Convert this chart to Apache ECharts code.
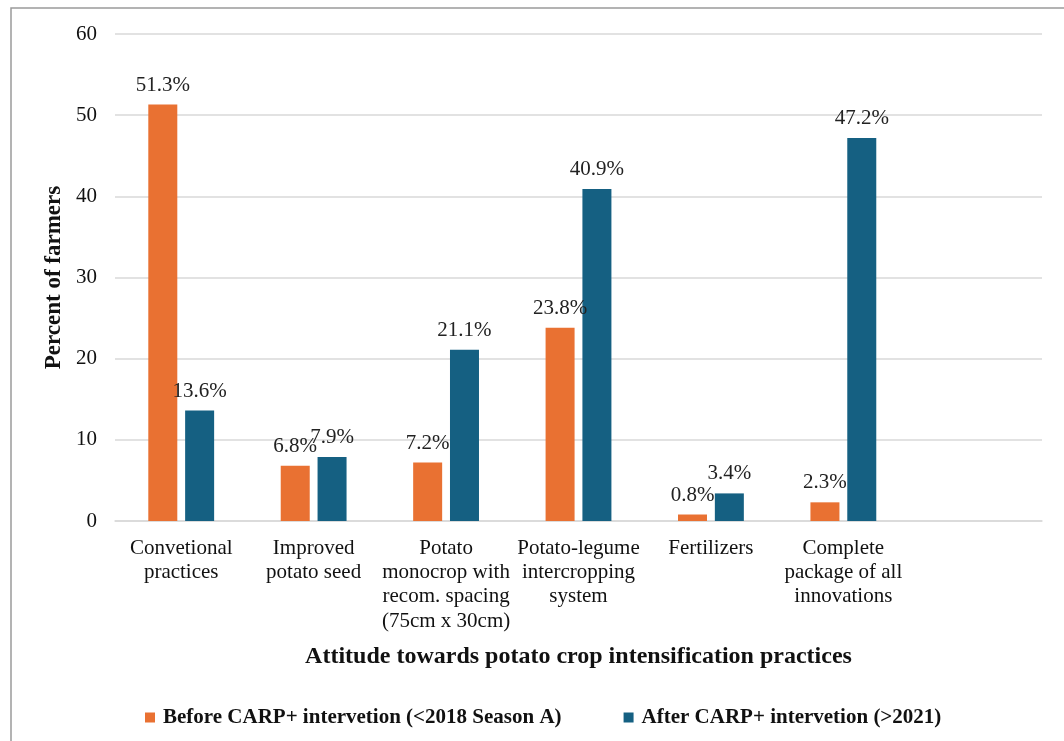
<!DOCTYPE html>
<html>
<head>
<meta charset="utf-8">
<script src="https://cdn.jsdelivr.net/npm/echarts@6/dist/echarts.min.js"></script>
<style>
  html, body { margin: 0; padding: 0; background: #fff; }
  #chart { width: 1064px; height: 741px; }
</style>
</head>
<body>
<div id="chart"></div>
<script>
// Practices surveyed (last slot is an empty category on the axis)
const categories = [
  'Convetional\npractices',
  'Improved\npotato seed',
  'Potato\nmonocrop with\nrecom. spacing\n(75cm x 30cm)',
  'Potato-legume\nintercropping\nsystem',
  'Fertilizers',
  'Complete\npackage of all\ninnovations',
  ''
];
const seriesNames = [
  'Before CARP+ intervetion (<2018 Season A)',
  'After CARP+ intervetion (>2021)'
];
const beforeValues = [51.3, 6.8, 7.2, 23.8, 0.8, 2.3, null];
const afterValues = [13.6, 7.9, 21.1, 40.9, 3.4, 47.2, null];
const yTicks = { min: 0, max: 60, interval: 10 };

const colors = ['#E97132', '#156082'];
const serif = '"Liberation Serif", "Times New Roman", serif';

const chart = echarts.init(document.getElementById('chart'), null, { renderer: 'canvas' });

function barSeries(name, data, color) {
  return {
    name: name,
    type: 'bar',
    data: data,
    barWidth: 29,
    barGap: '27%',
    itemStyle: { color: color },
    label: {
      show: true,
      position: 'top',
      distance: 9,
      formatter: p => p.value == null ? '' : p.value.toFixed(1) + '%',
      fontFamily: serif,
      fontSize: 21,
      color: '#222'
    }
  };
}

chart.setOption({
  animation: false,
  backgroundColor: '#fff',
  color: colors,
  grid: { left: 115, right: 22, top: 34, bottom: 220, containLabel: false },
  legend: {
    data: seriesNames,
    left: 140,
    top: 702,
    icon: 'rect',
    itemWidth: 10,
    itemHeight: 10,
    itemGap: 62,
    textStyle: {
      fontFamily: serif,
      fontWeight: 'bold',
      fontSize: 21,
      color: '#111',
      padding: [0, 0, 0, 3]
    }
  },
  xAxis: {
    type: 'category',
    data: categories,
    axisLine: { show: true, lineStyle: { color: '#d9d9d9', width: 1.5 } },
    axisTick: { show: false },
    axisLabel: {
      interval: 0,
      margin: 15,
      fontFamily: serif,
      fontSize: 21,
      lineHeight: 24.3,
      color: '#111',
      align: 'center',
      verticalAlign: 'top'
    },
    name: 'Attitude towards potato crop intensification practices',
    nameLocation: 'middle',
    nameGap: 124,
    nameTextStyle: { fontFamily: serif, fontSize: 24, fontWeight: 'bold', color: '#111' }
  },
  yAxis: {
    type: 'value',
    min: yTicks.min,
    max: yTicks.max,
    interval: yTicks.interval,
    axisLine: { show: false },
    axisTick: { show: false },
    splitLine: { lineStyle: { color: '#d9d9d9', width: 1.5 } },
    axisLabel: { margin: 18, fontFamily: serif, fontSize: 21, color: '#111' },
    name: 'Percent of farmers',
    nameLocation: 'middle',
    nameGap: 38,
    nameTextStyle: { fontFamily: serif, fontSize: 23, fontWeight: 'bold', color: '#111' }
  },
  series: [
    barSeries(seriesNames[0], beforeValues, colors[0]),
    barSeries(seriesNames[1], afterValues, colors[1])
  ],
  graphic: [
    {
      type: 'rect',
      shape: { x: 11, y: 8, width: 1070, height: 760 },
      style: { fill: 'none', stroke: '#9a9a9a', lineWidth: 1.5 },
      silent: true
    }
  ]
});
</script>
</body>
</html>
